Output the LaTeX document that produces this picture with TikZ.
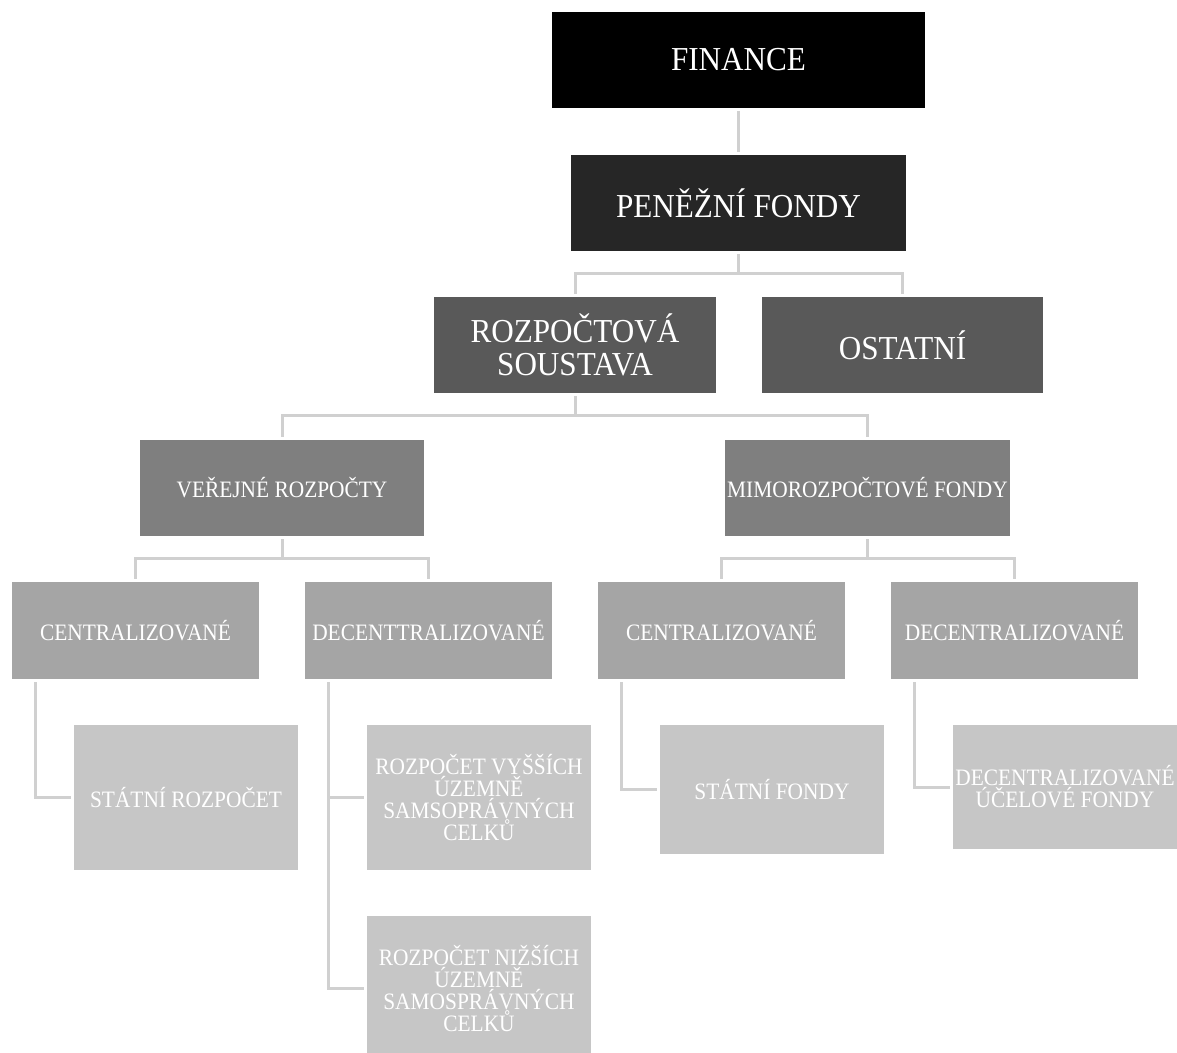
\documentclass[tikz,border=0pt]{standalone}
\usepackage{fontspec}
\setmainfont{Liberation Serif}
\newfontfamily\condfont[FakeStretch=0.93]{Liberation Serif}
\newfontfamily\condsmall[FakeStretch=0.91]{Liberation Serif}
\definecolor{lvA}{HTML}{000000}
\definecolor{lvB}{HTML}{262626}
\definecolor{lvC}{HTML}{595959}
\definecolor{lvD}{HTML}{7F7F7F}
\definecolor{lvE}{HTML}{A5A5A5}
\definecolor{lvF}{HTML}{C6C6C6}
\definecolor{connc}{HTML}{D0D0D0}
\tikzset{
  box/.style={rectangle, inner sep=0pt, text=white, align=center},
  bigtext/.style={box, font=\condfont\fontsize{33.5}{33}\selectfont},
  smalltext/.style={box, font=\condsmall\fontsize{23.5}{22}\selectfont},
  conn/.style={draw=connc, line width=3pt, shorten <=3pt, shorten >=3pt},
}
\begin{document}
\begin{tikzpicture}[x=1pt,y=-1pt]
\useasboundingbox (0,0) rectangle (1177,1052);
\clip (0,0) rectangle (1177,1052);
% level 1-3
\node[bigtext, fill=lvA, minimum width=373pt, minimum height=96pt] (fin) at (738.5,60) {FINANCE};
\node[bigtext, fill=lvB, minimum width=335pt, minimum height=96pt] (pen) at (738.5,203) {PENĚŽNÍ FONDY};
\node[bigtext, fill=lvC, minimum width=282pt, minimum height=96pt] (roz) at (575,345) {ROZPOČTOVÁ\\SOUSTAVA};
\node[bigtext, fill=lvC, minimum width=281pt, minimum height=96pt] (ost) at (902.5,345) {OSTATNÍ};
% level 4
\node[smalltext, fill=lvD, minimum width=284pt, minimum height=96pt] (ver) at (282,488) {VEŘEJNÉ ROZPOČTY};
\node[smalltext, fill=lvD, minimum width=285pt, minimum height=96pt] (mim) at (867.5,488) {MIMOROZPOČTOVÉ FONDY};
% level 5
\node[smalltext, fill=lvE, minimum width=247pt, minimum height=97pt] (c1) at (135.5,630.5) {CENTRALIZOVANÉ};
\node[smalltext, fill=lvE, minimum width=247pt, minimum height=97pt] (d1) at (428.5,630.5) {DECENTTRALIZOVANÉ};
\node[smalltext, fill=lvE, minimum width=247pt, minimum height=97pt] (c2) at (721.5,630.5) {CENTRALIZOVANÉ};
\node[smalltext, fill=lvE, minimum width=247pt, minimum height=97pt] (d2) at (1014.5,630.5) {DECENTRALIZOVANÉ};
% leaves
\node[smalltext, fill=lvF, minimum width=224pt, minimum height=145pt] (sr) at (186,797.5) {STÁTNÍ ROZPOČET};
\node[smalltext, fill=lvF, minimum width=224pt, minimum height=145pt] (vys) at (479,797.5) {ROZPOČET VYŠŠÍCH\\ÚZEMNĚ\\SAMSOPRÁVNÝCH\\CELKŮ};
\node[smalltext, fill=lvF, minimum width=224pt, minimum height=145pt] (niz) at (479,988.5) {ROZPOČET NIŽŠÍCH\\ÚZEMNĚ\\SAMOSPRÁVNÝCH\\CELKŮ};
\node[smalltext, fill=lvF, minimum width=224pt, minimum height=129pt] (sf) at (772,789.5) {STÁTNÍ FONDY};
\node[smalltext, fill=lvF, minimum width=224pt, minimum height=124pt] (duf) at (1065,787) {DECENTRALIZOVANÉ\\ÚČELOVÉ FONDY};
% connectors
\draw[conn] (fin) -- (pen);
\draw[conn] (pen.south) -- ++(0,22) -| (roz.north);
\draw[conn] (pen.south) -- ++(0,22) -| (ost.north);
\draw[conn] (roz.south) -- ++(0,22) -| (ver.north);
\draw[conn] (roz.south) -- ++(0,22) -| (mim.north);
\draw[conn] (ver.south) -- ++(0,22) -| (c1.north);
\draw[conn] (ver.south) -- ++(0,22) -| (d1.north);
\draw[conn] (mim.south) -- ++(0,22) -| (c2.north);
\draw[conn] (mim.south) -- ++(0,22) -| (d2.north);
\draw[conn] ([xshift=24pt]c1.south west) |- (sr.west);
\draw[conn] ([xshift=24pt]d1.south west) |- (vys.west);
\draw[conn] ([xshift=24pt]d1.south west) |- (niz.west);
\draw[conn] ([xshift=24pt]c2.south west) |- (sf.west);
\draw[conn] ([xshift=24pt]d2.south west) |- (duf.west);
\end{tikzpicture}
\end{document}
